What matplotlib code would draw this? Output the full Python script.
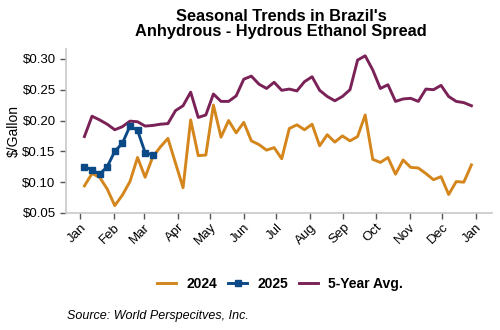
import numpy as np
import matplotlib
matplotlib.use("Agg")
import matplotlib.pyplot as plt

plt.rcParams['font.family'] = ['Liberation Sans', 'DejaVu Sans']

# Weekly observations, positioned by day of year
week_days = np.arange(52) * 7 + 4

spread_2024 = [0.094, 0.114, 0.108, 0.089, 0.062, 0.079, 0.101, 0.140, 0.108, 0.141,
               0.157, 0.171, 0.131, 0.091, 0.201, 0.143, 0.144, 0.225, 0.173, 0.200,
               0.180, 0.197, 0.167, 0.161, 0.152, 0.156, 0.138, 0.187, 0.193, 0.185,
               0.194, 0.159, 0.177, 0.165, 0.175, 0.167, 0.174, 0.209, 0.137, 0.132,
               0.140, 0.113, 0.136, 0.124, 0.123, 0.114, 0.104, 0.109, 0.080, 0.101,
               0.100, 0.128]

spread_2025 = [0.125, 0.120, 0.113, 0.125, 0.150, 0.163, 0.191, 0.184, 0.148, 0.144]

spread_5yr = [0.174, 0.207, 0.201, 0.194, 0.185, 0.190, 0.199, 0.198, 0.191, 0.192,
              0.194, 0.195, 0.216, 0.224, 0.246, 0.205, 0.209, 0.243, 0.231, 0.231,
              0.240, 0.267, 0.272, 0.259, 0.252, 0.262, 0.249, 0.251, 0.248, 0.263,
              0.271, 0.249, 0.239, 0.232, 0.239, 0.250, 0.298, 0.305, 0.282, 0.252,
              0.258, 0.231, 0.235, 0.236, 0.231, 0.251, 0.250, 0.257, 0.239, 0.231,
              0.229, 0.224]

month_labels = ["Jan", "Feb", "Mar", "Apr", "May", "Jun", "Jul",
                "Aug", "Sep", "Oct", "Nov", "Dec", "Jan"]
month_days = [0, 31, 59, 90, 120, 151, 181, 212, 243, 273, 304, 334, 365]

y_ticks = [0.05, 0.10, 0.15, 0.20, 0.25, 0.30]

c2024 = "#D4861C"
c2025 = "#0B4A86"
c5yr = "#7A2257"

fig = plt.figure(figsize=(5.0, 3.3), dpi=100)
ax = fig.add_axes([66 / 500, 1 - 213 / 330, (492 - 66) / 500, (213 - 49) / 330])

ax.plot(week_days, spread_2024, color=c2024, lw=2.1, label="2024", zorder=2)
ax.plot(week_days[:len(spread_2025)], spread_2025, color=c2025, lw=2.1,
        marker="s", ms=5, label="2025", zorder=3)
ax.plot(week_days, spread_5yr, color=c5yr, lw=2.1, label="5-Year Avg.", zorder=2)

ax.set_xlim(-13, 380)
ax.set_ylim(0.05, 0.316)
ax.set_xticks(month_days)
ax.set_xticklabels(month_labels, rotation=45, ha="right", rotation_mode="anchor",
                   fontsize=9.5)
ax.set_yticks(y_ticks)
ax.set_yticklabels([f"${v:.2f}" for v in y_ticks], fontsize=9.5)

for side in ("top", "right"):
    ax.spines[side].set_visible(False)
for side in ("left", "bottom"):
    ax.spines[side].set_color("#C8C8C8")
    ax.spines[side].set_linewidth(1.2)
ax.tick_params(axis="both", colors="#555555", labelcolor="black", length=4, width=1)
ax.tick_params(axis="x", pad=2)

fig.text(14 / 500, 1 - 131 / 330, "$/Gallon", rotation=90, ha="center", va="center",
         fontsize=10)

fig.text(281 / 500, 1 - 24 / 330, "Seasonal Trends in Brazil's\nAnhydrous - Hydrous Ethanol Spread",
         ha="center", va="center", fontsize=11.8, fontweight="bold", linespacing=1.05)

fig.legend(loc="center", bbox_to_anchor=(280 / 500, 1 - 284 / 330), ncol=3,
           frameon=False, handlelength=1.4, columnspacing=0.8, handletextpad=0.7,
           prop={"weight": "bold", "size": 10})

fig.text(67 / 500, 1 - 316 / 330, "Source: World Perspecitves, Inc.", ha="left",
         va="center", fontsize=9, style="italic")

fig.savefig("out.png", dpi=100)
